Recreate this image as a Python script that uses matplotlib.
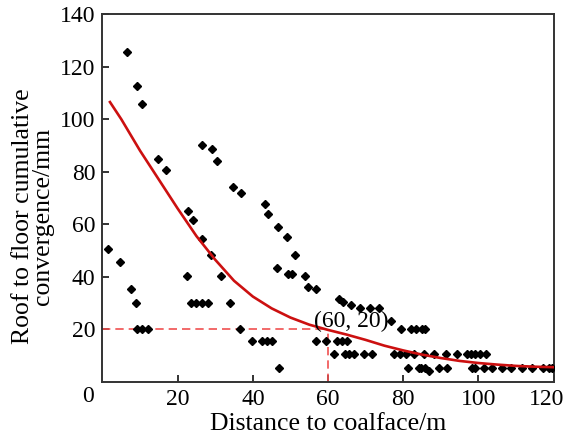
import matplotlib
matplotlib.use("Agg")
import matplotlib.pyplot as plt
import matplotlib.transforms as mtransforms

plt.rcParams['font.family'] = ['Liberation Serif', 'DejaVu Serif']

# Measured roof-to-floor convergence at distances ahead of the coalface
dist_m = [
    1.5, 4.8, 6.4, 7.5, 8.8, 9.3, 10.6, 9.3, 10.6, 12.2,
    14.9, 17.0, 22.5, 22.8, 24.1, 26.6, 28.9, 23.5, 25.0, 26.5, 28.0,
    26.5, 29.2, 30.5, 31.6, 34.0, 34.8, 36.9, 36.6,
    39.8, 42.4, 43.8, 45.0, 43.2, 44.0, 46.6, 49.0, 51.3,
    46.4, 49.3, 50.3, 53.8, 54.6, 56.7, 46.9, 56.7, 59.6,
    62.8, 64.1, 66.2, 68.6, 71.3, 73.6, 76.8,
    62.5, 63.8, 65.1,
    61.5, 64.4, 65.7, 67.0, 69.7, 71.8,
    79.5, 82.1, 83.4, 85.0, 85.8,
    77.6, 79.2, 80.8, 83.0, 85.5, 88.3, 91.3, 94.3, 97.0, 98.0, 99.1, 100.4, 102.0,
    81.3, 84.2, 84.8, 85.8, 86.9, 89.5, 91.7, 98.3, 99.1, 101.5, 103.6,
    106.2, 108.6, 111.5, 114.4, 117.1, 118.9, 119.5,
]
convergence_mm = [
    50.5, 45.5, 125.6, 35.3, 30.0, 112.7, 105.8, 20.0, 20.0, 20.0,
    85.0, 80.8, 40.2, 64.9, 61.8, 54.2, 48.2, 30.0, 30.0, 30.0, 30.0,
    90.0, 88.8, 84.0, 40.2, 30.0, 74.3, 72.0, 20.0,
    15.5, 15.5, 15.5, 15.5, 67.8, 64.0, 59.0, 55.3, 48.2,
    43.2, 41.0, 41.0, 40.2, 36.0, 35.3, 5.3, 15.5, 15.5,
    31.5, 30.3, 29.2, 28.1, 28.0, 28.0, 23.2,
    15.5, 15.5, 15.5,
    10.6, 10.6, 10.6, 10.6, 10.6, 10.6,
    20.0, 20.0, 20.0, 20.0, 20.0,
    10.6, 10.6, 10.6, 10.6, 10.6, 10.6, 10.6, 10.6, 10.6, 10.6, 10.6, 10.6, 10.6,
    5.3, 5.3, 5.3, 5.3, 4.2, 5.3, 5.3, 5.3, 5.3, 5.3, 5.3,
    5.3, 5.3, 5.3, 5.3, 5.3, 5.3, 5.3,
]

# Fitted trend curve
fit_x = [2, 5, 10, 15, 20, 25, 30, 35, 40, 45, 50, 55, 60, 65, 70, 75,
         80, 85, 90, 95, 100, 105, 110, 115, 120]
fit_y = [106.5, 100, 88, 77, 66, 55.5, 46.5, 38.5, 32.5, 28, 24.5, 21.8,
         19.8, 18, 16, 13.8, 12, 10.4, 9.1, 8, 7.2, 6.6, 6.1, 5.8, 5.6]

marked_point = (60, 20)
x_ticks = [20, 40, 60, 80, 100, 120]
y_ticks = [20, 40, 60, 80, 100, 120, 140]

fig = plt.figure(figsize=(5.66, 4.38), dpi=100)
ax = fig.add_axes([0.181, 0.128, 0.797, 0.840])

ax.plot(dist_m, convergence_mm, linestyle='none', marker='D',
        markersize=4.3, color='black', zorder=3)
ax.plot(fit_x, fit_y, color='#cc1010', linewidth=1.9, zorder=4)

px, py = marked_point
ax.plot([0, px], [py, py], color='#f05050', linestyle=(0, (5, 3)),
        linewidth=1.2, zorder=2)
ax.plot([px, px], [0, py], color='#f05050', linestyle=(0, (5, 3)),
        linewidth=1.2, zorder=2)
ax.text(px - 3.8, py + 3.0, f"({px}, {py})", fontsize=17, ha='left',
        va='center', zorder=5)

ax.set_xlim(0, 120)
ax.set_ylim(0, 140)
ax.set_xticks(x_ticks)
ax.set_yticks(y_ticks)
ax.tick_params(direction='in', length=5, width=1.4, labelsize=17,
               top=False, right=False, pad=5, color='#333333')
ax.text(-0.018, -0.012, "0", transform=ax.transAxes, fontsize=17,
        ha='right', va='top')

# keep the last x tick label inside the figure edge
last_label = ax.get_xticklabels()[-1]
last_label.set_transform(last_label.get_transform() +
                         mtransforms.ScaledTranslation(-0.07, 0, fig.dpi_scale_trans))

for sp in ax.spines.values():
    sp.set_linewidth(1.4)
    sp.set_color('#333333')

fig.text(328 / 566, 1 - 424 / 438, "Distance to coalface/m", fontsize=18.5,
         ha='center', va='center')
fig.text(33 / 566, 1 - 216 / 438, "Roof to floor cumulative\nconvergence/mm",
         fontsize=18.5, ha='center', va='center', rotation=90,
         multialignment='center', linespacing=0.9)

fig.savefig("out.png", dpi=100)
